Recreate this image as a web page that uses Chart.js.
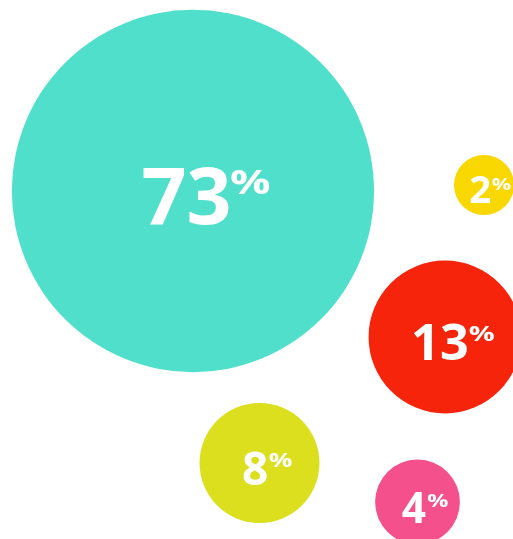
<!DOCTYPE html>
<html>
<head>
<meta charset="utf-8">
<script src="https://cdn.jsdelivr.net/npm/chart.js@4/dist/chart.umd.min.js"></script>
<style>
  html, body { margin: 0; padding: 0; background: #fff; }
  #wrap { width: 513px; height: 539px; position: relative; }
</style>
</head>
<body>
<div id="wrap"><canvas id="bubble-chart"></canvas></div>
<script>
const shares = [73, 2, 13, 8, 4];
const xPos = [193, 484, 445, 259.5, 417.5];
const yPos = [191, 185, 337, 463, 502];
const colors = ['#50DFCB', '#F9D700', '#F5240A', '#DCDF1E', '#F4508B'];

// bubble area proportional to share
const areaScale = 21.2;

const FONT = '"Open Sans", sans-serif';

function ink(ctx, text) {
  const m = ctx.measureText(text);
  return {
    w: m.actualBoundingBoxLeft + m.actualBoundingBoxRight,
    left: m.actualBoundingBoxLeft,
    asc: m.actualBoundingBoxAscent,
    h: m.actualBoundingBoxAscent + m.actualBoundingBoxDescent,
  };
}

const labelPlugin = {
  id: 'shareLabels',
  afterDatasetsDraw(chart) {
    const { ctx } = chart;
    const meta = chart.getDatasetMeta(0);
    meta.data.forEach((pt, i) => {
      const r = pt.options.radius;
      const cap = 22 + 0.2 * r;
      const num = String(shares[i]);
      ctx.save();
      ctx.fillStyle = '#fff';
      ctx.textBaseline = 'alphabetic';
      ctx.textAlign = 'left';

      // size the digits so their ink height equals cap
      ctx.font = `700 100px ${FONT}`;
      const ref = ink(ctx, num);
      const size = 100 * cap / ref.h;
      ctx.font = `700 ${size}px ${FONT}`;
      const d = ink(ctx, num);

      ctx.font = `700 100px ${FONT}`;
      const pref = ink(ctx, '%');
      const pctSize = 100 * (0.44 * cap) / pref.h;
      ctx.font = `700 ${pctSize}px ${FONT}`;
      const p = ink(ctx, '%');
      const stretch = 1.3;

      const gap = 0.05 * cap;
      const blockW = d.w + gap + p.w * stretch;
      const left = pt.x + 0.24 * cap - blockW / 2;
      const top = pt.y + 5 - cap / 2;

      ctx.font = `700 ${size}px ${FONT}`;
      ctx.fillText(num, left + d.left, top + d.asc);

      ctx.font = `700 ${pctSize}px ${FONT}`;
      ctx.translate(left + d.w + gap, top + 0.06 * cap + p.asc);
      ctx.scale(stretch, 1);
      ctx.fillText('%', p.left, 0);
      ctx.restore();
    });
  },
};

new Chart(document.getElementById('bubble-chart'), {
  type: 'bubble',
  data: {
    datasets: [{
      data: shares.map((v, i) => ({ x: xPos[i], y: yPos[i], r: areaScale * Math.sqrt(v) })),
      backgroundColor: colors,
      borderWidth: 0,
      hoverRadius: 0,
    }],
  },
  options: {
    responsive: true,
    maintainAspectRatio: false,
    animation: false,
    events: [],
    layout: { padding: 0, autoPadding: false },
    scales: {
      x: { display: false, min: 0, max: 513 },
      y: { display: false, min: 0, max: 539, reverse: true },
    },
    plugins: {
      legend: { display: false },
      tooltip: { enabled: false },
    },
  },
  plugins: [labelPlugin],
});
</script>
</body>
</html>
